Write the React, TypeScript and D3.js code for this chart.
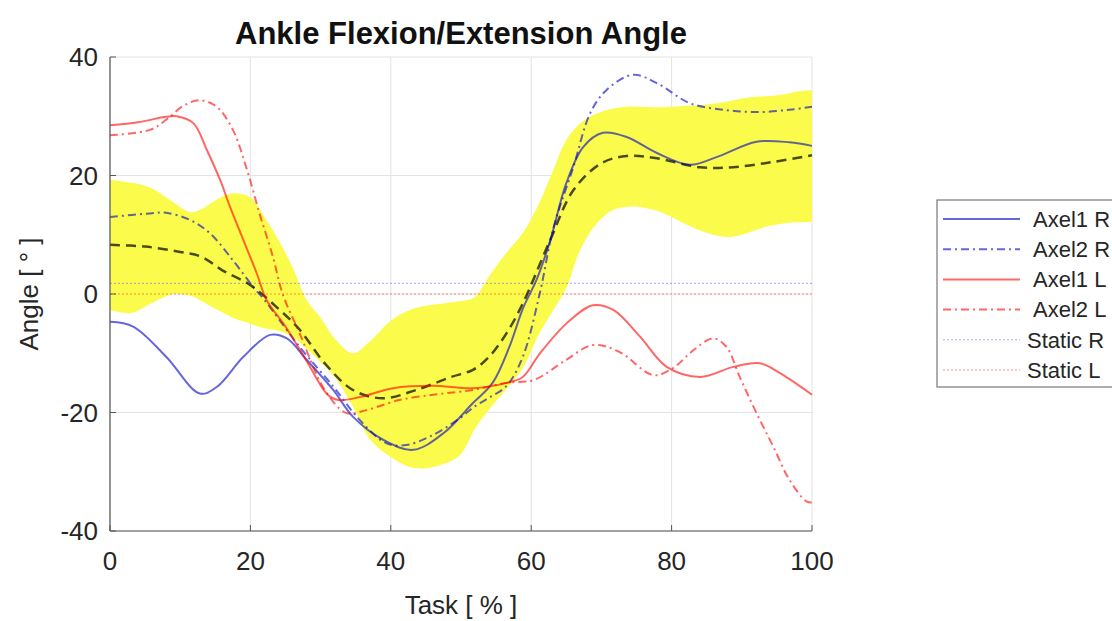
import React from 'react'
import * as d3 from 'd3'

const width = 1112
const height = 621

// normative band (mean +/- sd)
const bandX = [0, 3, 6, 9, 11.5, 13, 15, 17.5, 20, 22, 24, 26, 28, 30, 32, 34.6, 37, 40, 42.7, 45, 48, 50, 52, 54, 56.5, 58.8, 61, 63, 65, 67, 69.4, 71.7, 73.6, 75.5, 78, 80, 82.5, 85, 88, 90, 92, 94, 96.5, 98, 100]
const bandUpper = [19.3, 18.8, 17.8, 15.5, 13.8, 14.3, 15.8, 17, 16.3, 13, 9.1, 4.5, -1, -4, -7.5, -10, -8, -4.5, -2.7, -2, -1.5, -1.2, -0.5, 3, 7, 10.3, 15, 20.5, 26, 28.8, 30.5, 31.3, 31.6, 31.6, 31.5, 31.6, 31.8, 32, 32.5, 33, 33.3, 33.4, 33.8, 34.2, 34.4]
const bandLower = [-2.7, -3.2, -1.5, 0, -0.3, -1.2, -2.5, -4, -5, -5.8, -6.2, -7.2, -9.2, -11.5, -14, -19, -24.5, -27.5, -29.2, -29.4, -28.5, -27, -22.7, -19.5, -16, -12.5, -7, -3, 1, 7.5, 12, 14.2, 14.7, 14.7, 14, 13, 11.5, 10.3, 9.6, 10, 10.8, 11.5, 12, 12.1, 12.2]

const meanX = [0, 5, 10, 13, 16, 20, 24, 27, 30.6, 34.6, 38.9, 43.6, 48.6, 51.7, 54, 56.5, 58.8, 62.7, 66, 69.9, 73.6, 77.9, 84, 88.8, 94.5, 100]
const meanY = [8.3, 8, 7.1, 6.3, 4, 1.5, -2.5, -6, -11.7, -16.2, -17.6, -16.2, -14, -12.8, -10.6, -6.6, -1.6, 9.1, 17.5, 22, 23.3, 22.9, 21.4, 21.4, 22.3, 23.4]

const axel1RX = [0, 3.3, 8, 12.8, 15.2, 19, 22.8, 25.2, 28, 31.8, 34.6, 38.9, 43.2, 47.5, 51.7, 54.5, 56.9, 58.8, 60.8, 62.7, 65, 67.4, 70.2, 73.6, 77.9, 82.6, 86.4, 92.1, 96.8, 100]
const axel1RY = [-4.7, -5.5, -10.6, -16.8, -15.7, -10.6, -6.9, -7.5, -11.1, -16.2, -20.7, -24.6, -26.3, -23.5, -18.4, -15, -8.9, -2.5, 2.5, 9, 18.7, 24.8, 27.2, 26.5, 23.8, 21.8, 23.1, 25.7, 25.6, 25]

const axel2RX = [0, 5.7, 8, 11.4, 14.2, 17.5, 20.4, 22, 27, 31.8, 35.6, 39.4, 42.2, 46, 49.8, 51.7, 54, 56.5, 58.8, 61.2, 63.2, 66, 68.4, 70.7, 74.5, 77.9, 82.6, 87.4, 92.1, 96.8, 100]
const axel2RY = [13, 13.6, 13.7, 12.5, 10.3, 5.7, 1.2, -1, -8.9, -15.6, -21.3, -25.2, -25.5, -23.8, -21, -19.2, -17.5, -15.5, -10.6, 0, 11.3, 21.4, 30.5, 34.4, 37, 35.6, 32.2, 31.1, 30.7, 31.1, 31.6]

const axel1LX = [0, 4, 8, 9.5, 11.9, 13.8, 15.7, 17.1, 19, 20.9, 22.3, 25, 28, 31, 32.5, 35.6, 40.3, 46, 51.7, 56.5, 58.8, 61.2, 65, 68.8, 71.7, 75.5, 79.3, 84.1, 88.8, 92.6, 95.5, 100]
const axel1LY = [28.5, 29, 29.9, 30, 28.8, 24.3, 19.2, 14.7, 9.1, 3.5, -1, -5.5, -11.3, -17, -17.9, -17.4, -15.9, -15.5, -15.9, -15, -14, -10.1, -5, -1.9, -2.7, -7.2, -12.3, -14, -12.3, -11.7, -13.4, -17]

const axel2LX = [0, 5.7, 8, 10.5, 12.8, 15.2, 17.5, 19.4, 21.3, 23.2, 24.6, 27, 30.6, 33.7, 36.5, 41.2, 46, 49.8, 51.7, 56.5, 60.4, 65, 68.8, 72.6, 77.4, 80.2, 83.1, 85.9, 87.8, 89.7, 92.1, 94.5, 96.8, 99.2, 100]
const axel2LY = [26.8, 27.7, 29.4, 31.8, 32.7, 31.6, 27.7, 21.4, 13.6, 6.3, 0, -6.6, -16.2, -20.1, -19.6, -17.9, -17, -16.5, -16.2, -15, -14.5, -11.1, -8.6, -9.8, -13.7, -12.5, -9.5, -7.5, -8.9, -14, -20.1, -25.8, -31.4, -35, -35.2]

const staticR = 1.8
const staticL = 0

const xTicks = [0, 20, 40, 60, 80, 100]
const yTicks = [-40, -20, 0, 20, 40]

const legendLabels = ['Axel1 R', 'Axel2 R', 'Axel1 L', 'Axel2 L', 'Static R', 'Static L']

const blue = 'rgb(0,0,195)'
const red = 'rgb(255,0,0)'
const staticBlue = 'rgb(90,90,255)'
const dashDot = '8 4 2 4'
const dotted = '2 2'

const zip = (xs: number[], ys: number[]): [number, number][] => xs.map((v, i) => [v, ys[i]])

export default function App() {
  const x = d3.scaleLinear().domain([0, 100]).range([110, 812])
  const y = d3.scaleLinear().domain([-40, 40]).range([531, 57])

  const line = d3.line<[number, number]>()
    .x(d => x(d[0]))
    .y(d => y(d[1]))
    .curve(d3.curveCatmullRom.alpha(0.5))

  const band = d3.area<number>()
    .x(d => x(d))
    .y0((_, i) => y(bandLower[i]))
    .y1((_, i) => y(bandUpper[i]))
    .curve(d3.curveCatmullRom.alpha(0.5))

  const series = [
    { d: zip(axel1RX, axel1RY), color: blue, dash: undefined },
    { d: zip(axel2RX, axel2RY), color: blue, dash: dashDot },
    { d: zip(axel1LX, axel1LY), color: red, dash: undefined },
    { d: zip(axel2LX, axel2LY), color: red, dash: dashDot },
  ]

  const legendStyles = [
    { color: blue, dash: undefined, w: 2, o: 0.6 },
    { color: blue, dash: dashDot, w: 2, o: 0.6 },
    { color: red, dash: undefined, w: 2, o: 0.6 },
    { color: red, dash: dashDot, w: 2, o: 0.6 },
    { color: staticBlue, dash: dotted, w: 1, o: 0.55 },
    { color: red, dash: dotted, w: 1, o: 0.45 },
  ]

  const font = '"Liberation Sans", Arial, sans-serif'
  const txt = '#262626'

  return (
    <svg width={width} height={height} style={{ position: 'absolute', left: 0, top: 0, background: '#fff' }}
      fontFamily={font}>
      {/* grid */}
      {xTicks.map(t => (
        <line key={'gx' + t} x1={x(t)} x2={x(t)} y1={y(-40)} y2={y(40)} stroke="#e3e3e3" strokeWidth={1} />
      ))}
      {yTicks.map(t => (
        <line key={'gy' + t} x1={x(0)} x2={x(100)} y1={y(t)} y2={y(t)} stroke="#e3e3e3" strokeWidth={1} />
      ))}

      <path d={band(bandX) || ''} fill="#fbfb4c" />

      {/* static reference lines */}
      <line x1={x(0)} x2={x(100)} y1={y(staticR)} y2={y(staticR)} stroke={staticBlue} strokeOpacity={0.55} strokeDasharray={dotted} />
      <line x1={x(0)} x2={x(100)} y1={y(staticL)} y2={y(staticL)} stroke={red} strokeOpacity={0.45} strokeDasharray={dotted} />

      <path d={line(zip(meanX, meanY)) || ''} fill="none" stroke="#000" strokeOpacity={0.7} strokeWidth={2.5} strokeDasharray="10 6" />

      {series.map((s, i) => (
        <path key={i} d={line(s.d) || ''} fill="none" stroke={s.color} strokeOpacity={0.6} strokeWidth={2}
          strokeDasharray={s.dash} />
      ))}

      {/* axes */}
      <line x1={x(0)} x2={x(0)} y1={y(-40)} y2={y(40)} stroke="#555" strokeWidth={1.2} />
      <line x1={x(0)} x2={x(100)} y1={y(-40)} y2={y(-40)} stroke="#555" strokeWidth={1.2} />
      {yTicks.map(t => (
        <g key={'yt' + t}>
          <line x1={x(0)} x2={x(0) + 6} y1={y(t)} y2={y(t)} stroke="#555" />
          <text x={98} y={y(t)} dy="0.35em" textAnchor="end" fontSize={26} fill={txt}>{t}</text>
        </g>
      ))}
      {xTicks.map(t => (
        <g key={'xt' + t}>
          <line x1={x(t)} x2={x(t)} y1={y(-40)} y2={y(-40) - 6} stroke="#555" />
          <text x={x(t)} y={570} textAnchor="middle" fontSize={26} fill={txt}>{t}</text>
        </g>
      ))}

      <text x={461} y={44} textAnchor="middle" fontSize={31} fontWeight="bold" fill="#111">
        Ankle Flexion/Extension Angle
      </text>
      <text x={461} y={614} textAnchor="middle" fontSize={26} fill={txt}>Task [ % ]</text>
      <text transform={`translate(38,${y(0)}) rotate(-90)`} textAnchor="middle" fontSize={26} fill={txt}>
        Angle [ ° ]
      </text>

      {/* legend */}
      <rect x={937} y={200} width={200} height={187} fill="#fff" stroke="#777" strokeWidth={1.2} />
      {legendLabels.map((lab, i) => {
        const ly = 219 + i * 30.2
        const st = legendStyles[i]
        return (
          <g key={lab}>
            <line x1={943} x2={1020} y1={ly} y2={ly} stroke={st.color} strokeOpacity={st.o} strokeWidth={st.w}
              strokeDasharray={st.dash} />
            <text x={i < 4 ? 1033 : 1027} y={ly} dy="0.35em" fontSize={22} fill={txt}>{lab}</text>
          </g>
        )
      })}
    </svg>
  )
}
